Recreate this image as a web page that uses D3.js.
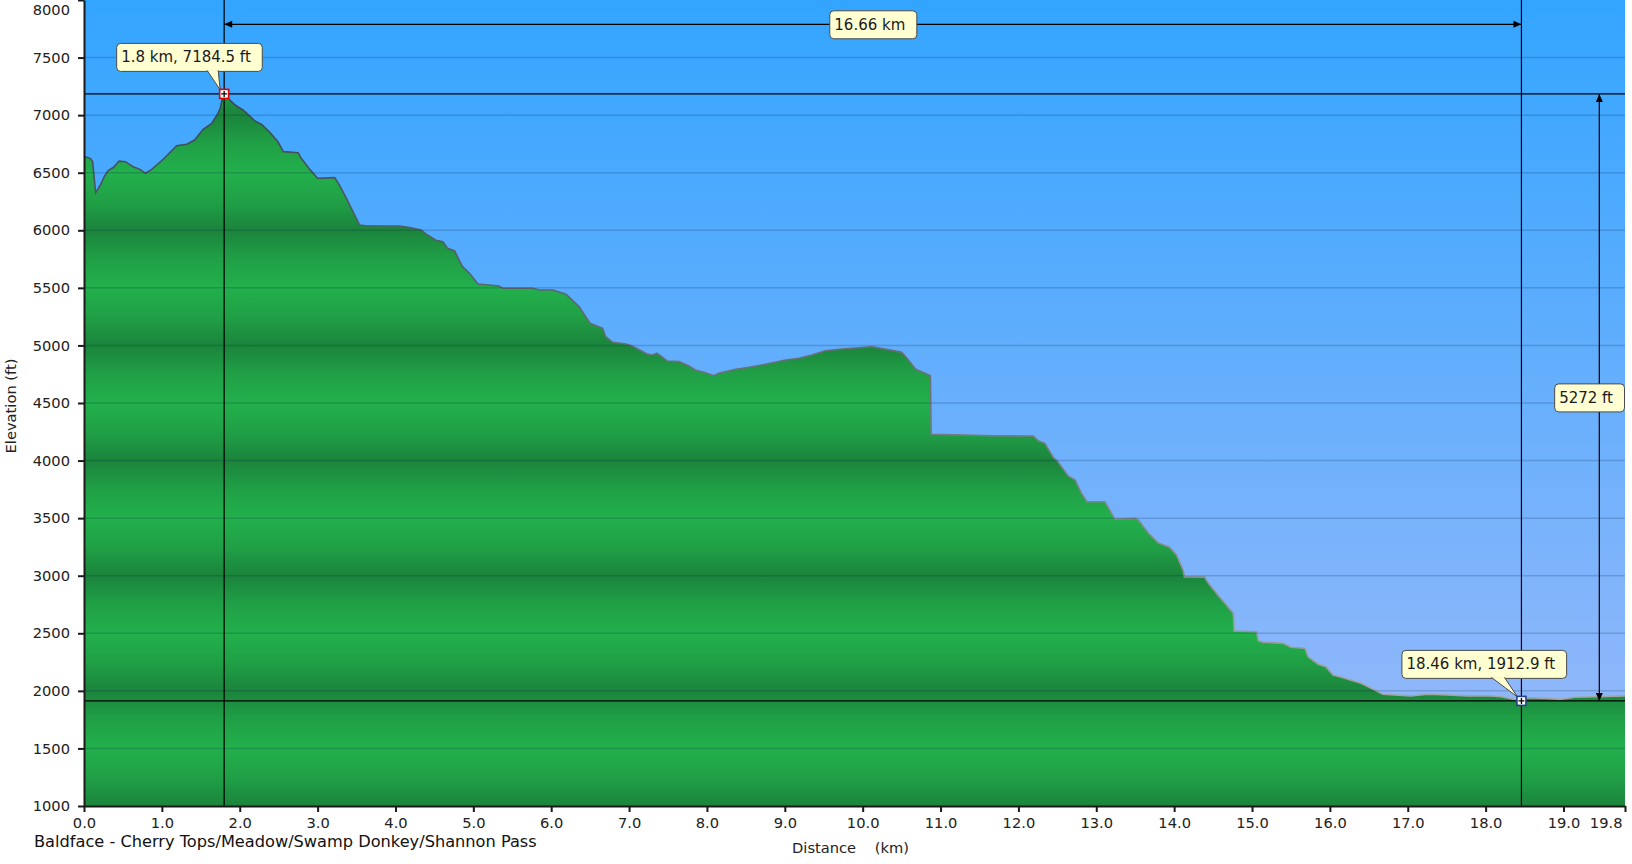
<!DOCTYPE html>
<html>
<head>
<meta charset="utf-8">
<script src="https://cdn.jsdelivr.net/npm/d3@7"></script>
<style>
  body { margin: 0; background: #fff; }
  text { font-family: "DejaVu Sans", Verdana, sans-serif; }
</style>
</head>
<body>
<div class="dataviz"></div>
<script>
// elevation profile, distance in km and elevation in ft
var dist = [0.00, 0.08, 0.11, 0.15, 0.21, 0.26, 0.31, 0.38, 0.45, 0.53, 0.63, 0.72, 0.79, 0.87,
  1.02, 1.19, 1.25, 1.32, 1.42, 1.53, 1.64, 1.72, 1.75, 1.78, 1.80, 1.85, 1.94, 2.04, 2.09,
  2.19, 2.28, 2.38, 2.49, 2.56, 2.75, 2.79, 2.90, 3.00, 3.22, 3.28, 3.37, 3.54, 3.62, 4.05,
  4.18, 4.33, 4.39, 4.52, 4.61, 4.67, 4.76, 4.86, 4.95, 5.06, 5.33, 5.38, 5.76, 5.85, 6.02,
  6.19, 6.36, 6.50, 6.66, 6.70, 6.79, 6.96, 7.04, 7.23, 7.30, 7.36, 7.49, 7.64, 7.77, 7.85,
  7.98, 8.09, 8.15, 8.37, 8.54, 8.75, 9.01, 9.18, 9.35, 9.52, 9.73, 9.95, 10.12, 10.25,
  10.46, 10.50, 10.57, 10.68, 10.80, 10.87, 10.88, 11.32, 11.66, 12.19, 12.26, 12.34, 12.45,
  12.49, 12.64, 12.73, 12.81, 12.88, 13.11, 13.24, 13.50, 13.54, 13.67, 13.79, 13.94, 14.03,
  14.12, 14.13, 14.39, 14.44, 14.56, 14.67, 14.76, 14.77, 15.06, 15.08, 15.14, 15.40, 15.50,
  15.68, 15.72, 15.85, 15.95, 16.04, 16.15, 16.40, 16.53, 16.68, 16.83, 17.04, 17.26, 17.51,
  17.77, 18.03, 18.20, 18.46, 18.54, 18.79, 18.96, 19.14, 19.44, 19.79];
var elev = [6640, 6625, 6596, 6326, 6393, 6466, 6518, 6547, 6601, 6596, 6552, 6529, 6495, 6529,
  6619, 6735, 6741, 6747, 6784, 6877, 6929, 7016, 7059, 7160, 7184.5, 7146, 7088, 7045, 7016,
  6952, 6920, 6856, 6769, 6683, 6674, 6625, 6529, 6451, 6457, 6393, 6278, 6046, 6040, 6037,
  6023, 6002, 5968, 5913, 5901, 5843, 5820, 5684, 5626, 5533, 5516, 5496, 5496, 5481, 5481,
  5444, 5336, 5192, 5149, 5076, 5027, 5012, 4995, 4926, 4917, 4932, 4865, 4859, 4821, 4787,
  4763, 4737, 4758, 4793, 4810, 4836, 4873, 4888, 4917, 4954, 4969, 4980, 4989, 4972,
  4946, 4940, 4888, 4793, 4758, 4737, 4228, 4222, 4216, 4213, 4170, 4150, 4025,
  4005, 3866, 3831, 3716, 3643, 3643, 3490, 3498, 3484, 3368, 3287, 3247, 3180,
  3040, 2990, 2988, 2934, 2832, 2746, 2673, 2520, 2514, 2436, 2422, 2413, 2378,
  2370, 2297, 2231, 2210, 2138, 2118, 2066, 2022, 1970, 1964, 1956, 1970, 1964,
  1956, 1958, 1949, 1912.9, 1940, 1935, 1926, 1944, 1949, 1956];

var yTicks = [1000, 1500, 2000, 2500, 3000, 3500, 4000, 4500, 5000, 5500, 6000, 6500, 7000, 7500, 8000];
var xTicks = [0, 1, 2, 3, 4, 5, 6, 7, 8, 9, 10, 11, 12, 13, 14, 15, 16, 17, 18, 19];
var xEnd = 19.79;

// measured points and the dimension lines between them
var peakKm = 1.8, peakFt = 7184.5;
var lowKm = 18.46, lowFt = 1912.9;
var peakLabel = "1.8 km, 7184.5 ft";
var lowLabel = "18.46 km, 1912.9 ft";
var spanLabel = "16.66 km";
var riseLabel = "5272 ft";
var spanFt = 7789;   // height of the horizontal dimension line
var riseKm = 19.46;  // position of the vertical dimension line

var title = "Baldface - Cherry Tops/Meadow/Swamp Donkey/Shannon Pass";

var W = 1632, H = 864;
var margin = {top: 0, right: 7, bottom: 58, left: 84};
var width = W - margin.left - margin.right,
  height = H - margin.top - margin.bottom;

var svg = d3.select(".dataviz").append("svg")
  .attr("width", W)
  .attr("height", H);

var x = d3.scaleLinear().domain([0, xEnd]).range([0, width]);
var y = d3.scaleLinear().domain([1000, 8000]).range([height, 0]);

var defs = svg.append("defs");

var sky = defs.append("linearGradient")
  .attr("id", "sky")
  .attr("gradientUnits", "userSpaceOnUse")
  .attr("x1", 0).attr("y1", 0).attr("x2", 0).attr("y2", height);
sky.append("stop").attr("offset", 0).attr("stop-color", "#33a5ff");
sky.append("stop").attr("offset", 1).attr("stop-color", "#9dbafa");

// green bands, dark on every 1000 ft, bright on every 500
var band = defs.append("linearGradient")
  .attr("id", "band")
  .attr("gradientUnits", "userSpaceOnUse")
  .attr("spreadMethod", "reflect")
  .attr("x1", 0).attr("y1", y(2000)).attr("x2", 0).attr("y2", y(1500));
band.append("stop").attr("offset", 0).attr("stop-color", "#1b843c");
band.append("stop").attr("offset", 0.5).attr("stop-color", "#20a046");
band.append("stop").attr("offset", 1).attr("stop-color", "#22b04c");

var edge = defs.append("linearGradient")
  .attr("id", "edge")
  .attr("gradientUnits", "userSpaceOnUse")
  .attr("x1", 0).attr("y1", y(7200)).attr("x2", 0).attr("y2", y(1900));
edge.append("stop").attr("offset", 0).attr("stop-color", "#3a4654");
edge.append("stop").attr("offset", 1).attr("stop-color", "#a4a4a4");

var paint = svg.append("g")
  .attr("transform", "translate(" + margin.left + "," + margin.top + ")");

paint.append("rect")
  .attr("x", 0)
  .attr("y", 0)
  .attr("width", width)
  .attr("height", height)
  .attr("fill", "url(#sky)");

var idx = d3.range(dist.length);

var area = d3.area()
  .x(function(i) { return x(dist[i]); })
  .y0(height)
  .y1(function(i) { return y(elev[i]); });

var line = d3.line()
  .x(function(i) { return x(dist[i]); })
  .y(function(i) { return y(elev[i]); });

paint.append("path")
  .datum(idx)
  .attr("d", area)
  .attr("fill", "url(#band)");

paint.append("path")
  .datum(idx)
  .attr("d", line)
  .attr("fill", "none")
  .attr("stroke", "url(#edge)")
  .attr("stroke-width", 1.6);

// grid
paint.selectAll(".grid")
  .data(yTicks.filter(function(d) { return d > 1000 && d < 8000; }))
  .enter().append("line")
  .attr("class", "grid")
  .attr("x1", 0)
  .attr("x2", width)
  .attr("y1", function(d) { return y(d); })
  .attr("y2", function(d) { return y(d); })
  .attr("stroke", "rgba(0,30,60,0.18)")
  .attr("stroke-width", 1.5);

// crosshair lines through the two points
var px = x(peakKm), py = y(peakFt), lx = x(lowKm), ly = y(lowFt);

[px, lx].forEach(function(v) {
  paint.append("line")
    .attr("x1", v).attr("x2", v)
    .attr("y1", 0).attr("y2", height)
    .attr("stroke", "#000").attr("stroke-width", 1.2);
});
[py, ly].forEach(function(v) {
  paint.append("line")
    .attr("x1", 0).attr("x2", width)
    .attr("y1", v).attr("y2", v)
    .attr("stroke", "#000").attr("stroke-width", 1.2);
});

// dimension lines
var sy = y(spanFt), rx = x(riseKm);
paint.append("line")
  .attr("x1", px).attr("x2", lx).attr("y1", sy).attr("y2", sy)
  .attr("stroke", "#000").attr("stroke-width", 1.2);
paint.append("line")
  .attr("x1", rx).attr("x2", rx).attr("y1", py).attr("y2", ly)
  .attr("stroke", "#000").attr("stroke-width", 1.2);

function arrow(tx, ty, dx, dy) {
  // tip at (tx,ty), pointing along (dx,dy)
  var L = 8, w = 3.5;
  var bx = tx - dx * L, by = ty - dy * L;
  paint.append("path")
    .attr("d", "M" + tx + "," + ty + "L" + (bx - dy * w) + "," + (by + dx * w) +
      "L" + (bx + dy * w) + "," + (by - dx * w) + "Z")
    .attr("fill", "#000");
}
arrow(px, sy, -1, 0);
arrow(lx, sy, 1, 0);
arrow(rx, py, 0, -1);
arrow(rx, ly, 0, 1);

function box(label, left, top) {
  var g = paint.append("g");
  var t = g.append("text")
    .attr("x", left + 5)
    .attr("y", top + 19.5)
    .attr("font-size", "15px")
    .attr("fill", "#1a1a1a")
    .text(label);
  var w = t.node().getComputedTextLength() + 16;
  g.insert("rect", "text")
    .attr("x", left + 0.5)
    .attr("y", top + 0.5)
    .attr("width", w)
    .attr("height", 28)
    .attr("rx", 4)
    .attr("fill", "#ffffd2")
    .attr("stroke", "#4a4a4a")
    .attr("stroke-width", 1);
  return {g: g, w: w};
}

function centredBox(label, cx, cy, maxRight) {
  var b = box(label, 0, 0);
  var left = cx - b.w / 2;
  if (maxRight !== undefined && left + b.w > maxRight) left = maxRight - b.w;
  b.g.attr("transform", "translate(" + left + "," + (cy - 14) + ")");
}

function callout(label, mx, my, dxLeft, b1, b2, col) {
  var top = my - 51;
  var b = box(label, mx + dxLeft, top);
  var bottom = top + 28.5;
  b.g.append("path")
    .attr("d", "M" + (mx + b1) + "," + (bottom - 1) + "L" + (mx - 4) + "," + (my - 4) +
      "L" + (mx + b2) + "," + (bottom - 1))
    .attr("fill", "#ffffd2")
    .attr("stroke", "#4a4a4a")
    .attr("stroke-width", 1);
  // marker
  paint.append("rect")
    .attr("x", mx - 4.5).attr("y", my - 4.5)
    .attr("width", 9).attr("height", 9)
    .attr("fill", "#fff")
    .attr("stroke", col)
    .attr("stroke-width", 1.6);
  paint.append("path")
    .attr("d", "M" + (mx - 3) + "," + my + "H" + (mx + 3) + "M" + mx + "," + (my - 3) + "V" + (my + 3))
    .attr("stroke", "#000")
    .attr("stroke-width", 1.3);
}

callout(peakLabel, px, py, -108, -17, -6, "#e00000");
callout(lowLabel, lx, ly, -120, -30, -17, "#23408e");
centredBox(spanLabel, (px + lx) / 2, sy);
centredBox(riseLabel, rx, (py + ly) / 2, width - 1);

// axes
var yAxis = paint.append("g")
  .call(d3.axisLeft(y).tickValues(yTicks).tickSize(6).tickSizeOuter(0).tickPadding(8)
    .tickFormat(d3.format("d")));
var xAxis = paint.append("g")
  .attr("transform", "translate(0," + height + ")")
  .call(d3.axisBottom(x).tickValues(xTicks.concat([xEnd])).tickSize(6).tickSizeOuter(0).tickPadding(6)
    .tickFormat(d3.format(".1f")));

[yAxis, xAxis].forEach(function(a) {
  a.select(".domain").attr("stroke", "#1a1a1a").attr("stroke-width", 2);
  a.selectAll(".tick line").attr("stroke", "#1a1a1a").attr("stroke-width", 2);
  a.selectAll("text")
    .attr("font-family", "DejaVu Sans, Verdana, sans-serif")
    .attr("font-size", "14.67px")
    .attr("fill", "#222");
});

// top label would be cut by the page edge, drop it a little
yAxis.selectAll(".tick text")
  .filter(function(d) { return d === 8000; })
  .attr("dy", "1.0em");
xAxis.selectAll(".tick text")
  .filter(function(d) { return d === xEnd; })
  .attr("text-anchor", "end")
  .attr("dx", -3);

svg.append("text")
  .attr("transform", "translate(" + 16 + "," + (margin.top + height / 2 + 3) + ") rotate(-90)")
  .attr("text-anchor", "middle")
  .attr("font-size", "14.67px")
  .attr("fill", "#222")
  .text("Elevation (ft)");

svg.append("text")
  .attr("x", margin.left + width / 2 - 4)
  .attr("y", H - 11)
  .attr("text-anchor", "middle")
  .attr("font-size", "14.67px")
  .attr("fill", "#222")
  .style("white-space", "pre")
  .text("Distance    (km)");

svg.append("text")
  .attr("x", 34)
  .attr("y", H - 17)
  .attr("font-family", "Open Sans, Noto Sans, sans-serif")
  .attr("font-size", "16.2px")
  .attr("fill", "#111")
  .text(title);
</script>
</body>
</html>
